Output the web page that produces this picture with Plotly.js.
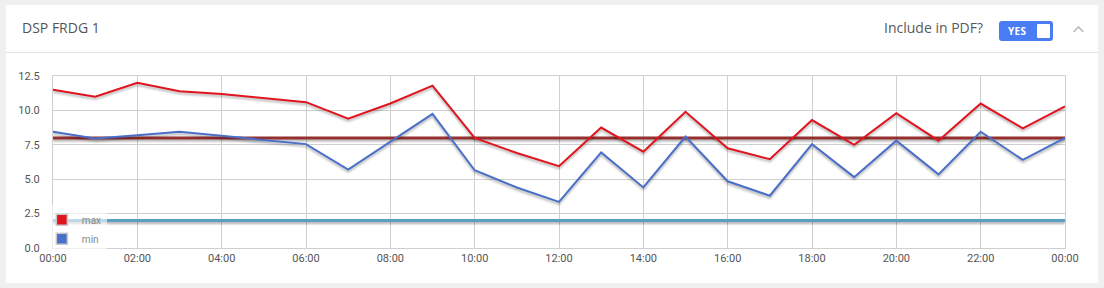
<!DOCTYPE html>
<html>
<head>
<meta charset="utf-8">
<script src="https://cdn.plot.ly/plotly-3.0.1.min.js"></script>
<style>
  html, body { margin:0; padding:0; background:#f0f0f0; width:1104px; height:288px; overflow:hidden; font-family:"Open Sans", sans-serif; }
  #card { position:absolute; left:6px; top:5px; width:1092px; height:278px; background:#fff; }
  #divider { position:absolute; left:6px; top:52px; width:1092px; height:1px; background:#e4e4e4; }
  #title { position:absolute; left:22px; top:18px; font-size:14px; color:#555; }
  #pdf { position:absolute; left:884px; top:18px; font-size:14px; color:#5a5a5a; }
  #toggle { position:absolute; left:999px; top:21px; width:54px; height:20px; background:#4a7cf4; border-radius:3px; }
  #toggle span { position:absolute; left:9px; top:4px; font-size:10px; font-weight:bold; color:#fff; font-family:"Open Sans", sans-serif; letter-spacing:0.3px; line-height:12px; }
  #knob { position:absolute; left:38px; top:3px; width:13px; height:14px; background:#fff; border-radius:1px; }
  #chev { position:absolute; left:1072px; top:24px; }
  #chart { position:absolute; left:0; top:0; width:1104px; height:288px; }
  #chart path.js-line { filter: drop-shadow(0px 2px 1px rgba(0,0,0,0.3)); }
</style>
</head>
<body>
<div id="card"></div>
<div id="divider"></div>
<div id="title">DSP FRDG 1</div>
<div id="pdf">Include in PDF?</div>
<div id="toggle"><span>YES</span><div id="knob"></div></div>
<svg id="chev" width="14" height="10"><polyline points="1.5,8 6.5,3 11.5,8" fill="none" stroke="#bdbdbd" stroke-width="1.6"/></svg>
<div id="chart"></div>
<script>
// ---- data ----
const hours = ["2024-01-01 00:00","2024-01-01 01:00","2024-01-01 02:00","2024-01-01 03:00","2024-01-01 04:00","2024-01-01 05:00","2024-01-01 06:00","2024-01-01 07:00","2024-01-01 08:00","2024-01-01 09:00","2024-01-01 10:00","2024-01-01 11:00","2024-01-01 12:00","2024-01-01 13:00","2024-01-01 14:00","2024-01-01 15:00","2024-01-01 16:00","2024-01-01 17:00","2024-01-01 18:00","2024-01-01 19:00","2024-01-01 20:00","2024-01-01 21:00","2024-01-01 22:00","2024-01-01 23:00","2024-01-02 00:00"];
const maxValues = [11.5, 11.0, 12.0, 11.4, 11.2, 10.9, 10.6, 9.4, 10.5, 11.8, 8.0, 6.9, 5.95, 8.75, 7.0, 9.9, 7.25, 6.45, 9.3, 7.5, 9.8, 7.8, 10.5, 8.7, 10.3];
const minValues = [8.45, 7.95, 8.2, 8.45, 8.15, 7.85, 7.55, 5.7, 7.75, 9.75, 5.65, 4.4, 3.35, 6.95, 4.4, 8.1, 4.85, 3.8, 7.55, 5.15, 7.8, 5.35, 8.45, 6.4, 8.0];
const thresholdX = ["2024-01-01 00:00", "2024-01-02 00:00"];
const maxThreshold = [8.0, 8.0];
const minThreshold = [2.0, 2.0];
const seriesNames = ["max", "min"];
const yTicks = [0, 2.5, 5, 7.5, 10, 12.5];

const red = "#e0141e", blue = "#4a6fc8";

const traces = [
  { x: thresholdX, y: minThreshold, mode: "lines", line: { color: "#5b9fc2", width: 3 }, showlegend: false, hoverinfo: "skip" },
  { x: thresholdX, y: maxThreshold, mode: "lines", line: { color: "#963030", width: 3 }, showlegend: false, hoverinfo: "skip" },
  { x: hours, y: minValues, mode: "lines", line: { color: blue, width: 2 }, showlegend: false },
  { x: hours, y: maxValues, mode: "lines", line: { color: red, width: 2 }, showlegend: false },
  { x: [null], y: [null], mode: "markers", name: seriesNames[0], marker: { symbol: "square", size: 11, color: red, line: { color: "#c8c8c8", width: 1.5 } } },
  { x: [null], y: [null], mode: "markers", name: seriesNames[1], marker: { symbol: "square", size: 11, color: blue, line: { color: "#c8c8c8", width: 1.5 } } }
];

const layout = {
  width: 1104, height: 288,
  margin: { l: 53, r: 39, t: 76, b: 40 },
  paper_bgcolor: "rgba(0,0,0,0)", plot_bgcolor: "#fff",
  font: { family: "Roboto, sans-serif", size: 11, color: "#555" },
  xaxis: {
    type: "date", range: thresholdX, dtick: 7200000, tick0: "2024-01-01 00:00",
    tickformat: "%H:%M", showgrid: true, gridcolor: "#cfcfcf", gridwidth: 1,
    showline: true, linecolor: "#cfcfcf", mirror: true, zeroline: false,
    ticks: "", tickfont: { size: 11, color: "#555" }
  },
  yaxis: {
    range: [0, 12.5], tickvals: yTicks, tickformat: ".1f",
    showgrid: true, gridcolor: "#cfcfcf", gridwidth: 1,
    showline: true, linecolor: "#cfcfcf", mirror: true, zeroline: false,
    ticks: "", ticklabelstandoff: 10, tickfont: { size: 11, color: "#555" }
  },
  showlegend: true,
  legend: {
    x: -0.011, y: -0.03, xanchor: "left", yanchor: "bottom", xref: "paper", yref: "paper",
    bgcolor: "rgba(255,255,255,0.6)", borderwidth: 0,
    font: { size: 10, color: "#888" }, tracegroupgap: 0
  },
  hovermode: false
};

Plotly.newPlot("chart", traces, layout, { displayModeBar: false, staticPlot: true });
</script>
</body>
</html>
